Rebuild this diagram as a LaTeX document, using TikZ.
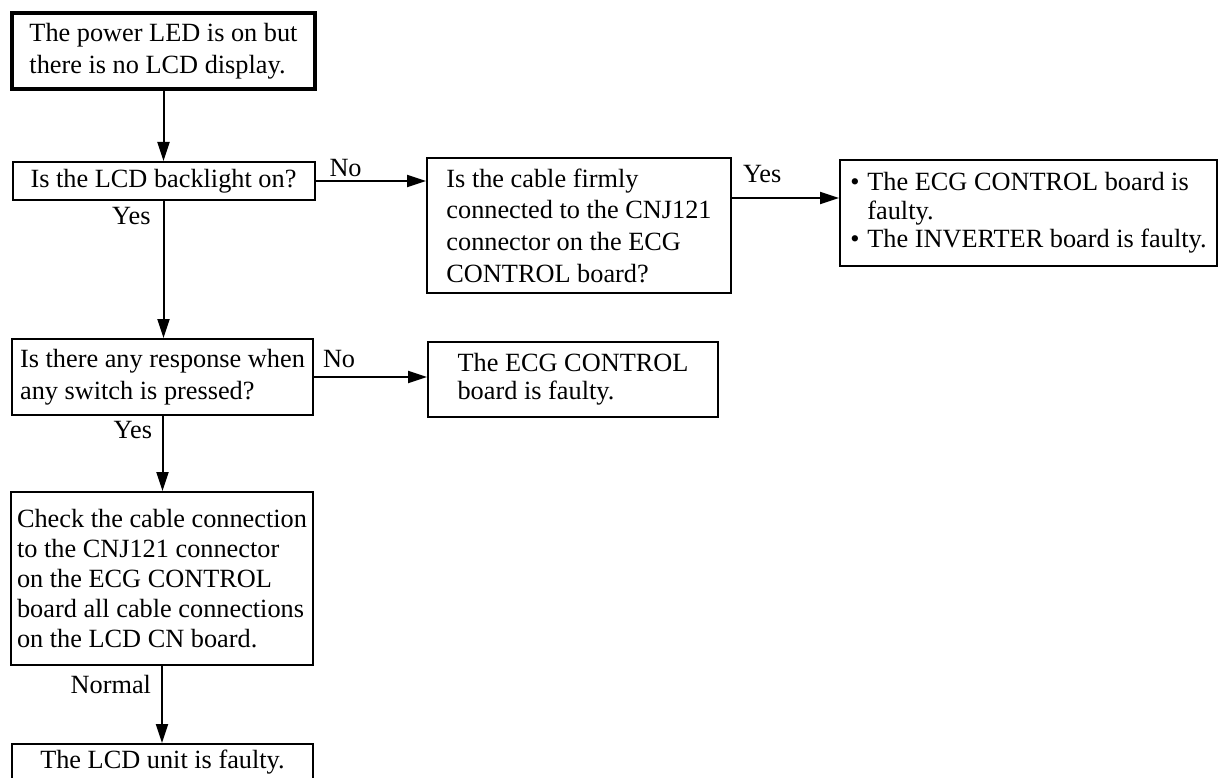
\documentclass[tikz,border=0pt]{standalone}
\usepackage{fontspec}
\setmainfont{Liberation Serif}
\usetikzlibrary{arrows.meta}

\newcommand{\voce}{\makebox[17pt][l]{\textbullet}}

\tikzset{
  riquadro/.style={draw, line width=2pt, inner sep=3pt, align=left, font=\fontsize{26.3pt}{31.7pt}\selectfont},
  freccia/.style={line width=2pt, -{Triangle[length=19pt,width=12pt]}},
  etichetta/.style={inner sep=0pt, font=\fontsize{26.3pt}{31.7pt}\selectfont}
}

\begin{document}
\begin{tikzpicture}[x=1pt, y=-1pt]
      \useasboundingbox (0,0) rectangle (1226,778);

      % Colonna di sinistra
      \node[riquadro, line width=4pt, minimum width=303pt, minimum height=76pt] (inizio) at (163.5,51) {The power LED is on but\\there is no LCD display.};
      \node[riquadro, minimum width=302pt, minimum height=38pt] (retro) at (163.5,181) {Is the LCD backlight on?};
      \node[riquadro, minimum width=301pt, minimum height=76pt] (risposta) at (162.5,377) {Is there any response when\\any switch is pressed?};
      \node[riquadro, minimum width=302pt, minimum height=173pt, font=\fontsize{26.3pt}{30pt}\selectfont] (verifica) at (162,578.5) {Check the cable connection\\to the CNJ121 connector\\on the ECG CONTROL\\board all cable connections\\on the LCD CN board.};
      \node[riquadro, align=center, minimum width=301pt, minimum height=36pt] (lcd) at (162.5,762) {The LCD unit is faulty.};

      % Colonna di destra
      \node[riquadro, minimum width=304pt, minimum height=135pt] (cavo) at (579,225.5) {Is the cable firmly\\connected to the CNJ121\\connector on the ECG\\CONTROL board?};
      \node[riquadro, minimum width=290pt, minimum height=75pt, font=\fontsize{26.3pt}{28pt}\selectfont] (guasto) at (573,379.5) {The ECG CONTROL\\board is faulty.};
      \node[riquadro, minimum width=377pt, minimum height=106pt, font=\fontsize{26.3pt}{28.5pt}\selectfont] (cause) at (1028.5,213) {\voce The ECG CONTROL board is\\\hspace*{17pt}faulty.\\\voce The INVERTER board is faulty.};
      \coordinate (livello) at (0,198);

      % Frecce verticali
      \draw[freccia] (inizio.south) -- (inizio.south |- retro.north);
      \draw[freccia] (retro.south) -- (retro.south |- risposta.north) node[etichetta, pos=0, anchor=base east, shift={(-12,24)}] {Yes};
      \draw[freccia] (risposta.south) -- (risposta.south |- verifica.north) node[etichetta, pos=0, anchor=base east, shift={(-9.5,22)}] {Yes};
      \draw[freccia] (verifica.south) -- (verifica.south |- lcd.north) node[etichetta, pos=0, anchor=base east, shift={(-10,27)}] {Normal};

      % Frecce orizzontali
      \draw[freccia] (retro.east) -- (retro.east -| cavo.west) node[etichetta, pos=0, anchor=base west, shift={(13,-4)}] {No};
      \draw[freccia] (cavo.east |- livello) -- (cause.west |- livello) node[etichetta, pos=0, anchor=base west, shift={(10,-15)}] {Yes};
      \draw[freccia] (risposta.east) -- (risposta.east -| guasto.west) node[etichetta, pos=0, anchor=base west, shift={(8,-10)}] {No};
\end{tikzpicture}
\end{document}
